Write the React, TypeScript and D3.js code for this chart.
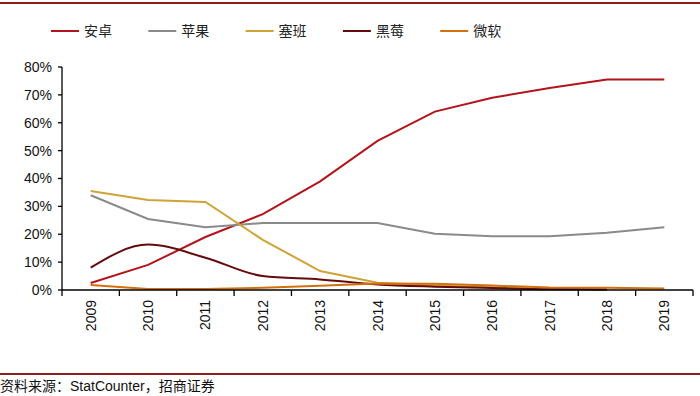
import * as d3 from 'd3';

const years = ['2009', '2010', '2011', '2012', '2013', '2014', '2015', '2016', '2017', '2018', '2019'];
const android = [2.5, 9, 19, 27.2, 39, 53.5, 64, 69, 72.5, 75.5, 75.5];
const apple = [34, 25.5, 22.5, 24, 24, 24, 20.2, 19.3, 19.3, 20.5, 22.5];
const symbian = [35.5, 32.3, 31.6, 18, 6.8, 2.6, 1.6, 1, 0.4, 0.2];
const blackberry = [8, 16.3, 11.6, 5, 3.8, 2, 1.2, 0.7, 0.3, 0.2];
const windows = [1.8, 0.4, 0.4, 0.8, 1.5, 2.3, 2.2, 1.6, 0.9, 0.8, 0.5];
const yTicks = [0, 10, 20, 30, 40, 50, 60, 70, 80];

const series = [
  { name: '安卓', values: android, color: '#B1141B', smooth: false },
  { name: '苹果', values: apple, color: '#8A8A8A', smooth: false },
  { name: '塞班', values: symbian, color: '#CFA335', smooth: false },
  { name: '黑莓', values: blackberry, color: '#640C0C', smooth: true },
  { name: '微软', values: windows, color: '#D2700E', smooth: false },
];

const W = 700;
const H = 396;
const margin = { left: 62, right: 7, top: 67, bottom: 106 };

export default function App() {
  const x = d3
    .scaleBand<string>()
    .domain(years)
    .range([margin.left, W - margin.right]);
  const y = d3
    .scaleLinear()
    .domain([0, 80])
    .range([H - margin.bottom, margin.top]);

  const mkLine = (smooth: boolean) =>
    d3
      .line<number>()
      .x((_, i) => (x(years[i]) || 0) + x.bandwidth() / 2)
      .y((d) => y(d))
      .curve(smooth ? d3.curveMonotoneX : d3.curveLinear);

  const baseY = y(0);
  const tickXs = years.map((yr) => x(yr) || 0).concat([W - margin.right]);

  return (
    <div style={{ position: 'fixed', left: 0, top: 0 }}>
      <svg width={W} height={H} style={{ display: 'block', background: '#fff' }}>
        {/* top and bottom rules */}
        <line x1={0} x2={W} y1={3} y2={3} stroke="#8E1B1E" strokeWidth={2} />
        <line x1={0} x2={W} y1={374} y2={374} stroke="#8E1B1E" strokeWidth={2} />

        {/* legend */}
        {series.map((s, i) => {
          const lx = 51 + i * 97.3;
          return (
            <g key={s.name}>
              <line x1={lx} x2={lx + 28} y1={31} y2={31} stroke={s.color} strokeWidth={2} />
              <text
                x={lx + 33}
                y={36}
                fontFamily="'Noto Sans CJK SC', sans-serif"
                fontSize={14}
                fill="#222"
              >
                {s.name}
              </text>
            </g>
          );
        })}

        {/* y axis */}
        <line x1={margin.left} x2={margin.left} y1={y(80)} y2={baseY} stroke="#000" strokeWidth={1.3} />
        {yTicks.map((t) => (
          <g key={t}>
            <line x1={margin.left - 4} x2={margin.left} y1={y(t)} y2={y(t)} stroke="#000" strokeWidth={1.3} />
            <text
              x={margin.left - 10}
              y={y(t)}
              dy="0.35em"
              textAnchor="end"
              fontFamily="'Liberation Sans', Arial, sans-serif"
              fontSize={14}
              fill="#111"
            >
              {t}%
            </text>
          </g>
        ))}

        {/* lines */}
        {series.map((s) => (
          <path
            key={s.name}
            d={mkLine(s.smooth)(s.values) || ''}
            fill="none"
            stroke={s.color}
            strokeWidth={2}
          />
        ))}

        {/* x axis */}
        <line x1={margin.left} x2={W - margin.right} y1={baseY} y2={baseY} stroke="#000" strokeWidth={1.5} />
        {tickXs.map((tx, i) => (
          <line key={i} x1={tx} x2={tx} y1={baseY} y2={baseY + 6} stroke="#000" strokeWidth={1.3} />
        ))}
        {years.map((yr) => {
          const cx = (x(yr) || 0) + x.bandwidth() / 2;
          return (
            <text
              key={yr}
              transform={`translate(${cx + 5},${baseY + 10}) rotate(-90)`}
              textAnchor="end"
              fontFamily="'Liberation Sans', Arial, sans-serif"
              fontSize={14}
              fill="#111"
            >
              {yr}
            </text>
          );
        })}

        {/* source */}
        <text x={0} y={391} fontSize={14} fill="#111" fontFamily="'Noto Sans CJK SC', sans-serif">
          资料来源：
          <tspan fontFamily="'Liberation Sans', Arial, sans-serif">StatCounter</tspan>
          ，招商证券
        </text>
      </svg>
    </div>
  );
}
